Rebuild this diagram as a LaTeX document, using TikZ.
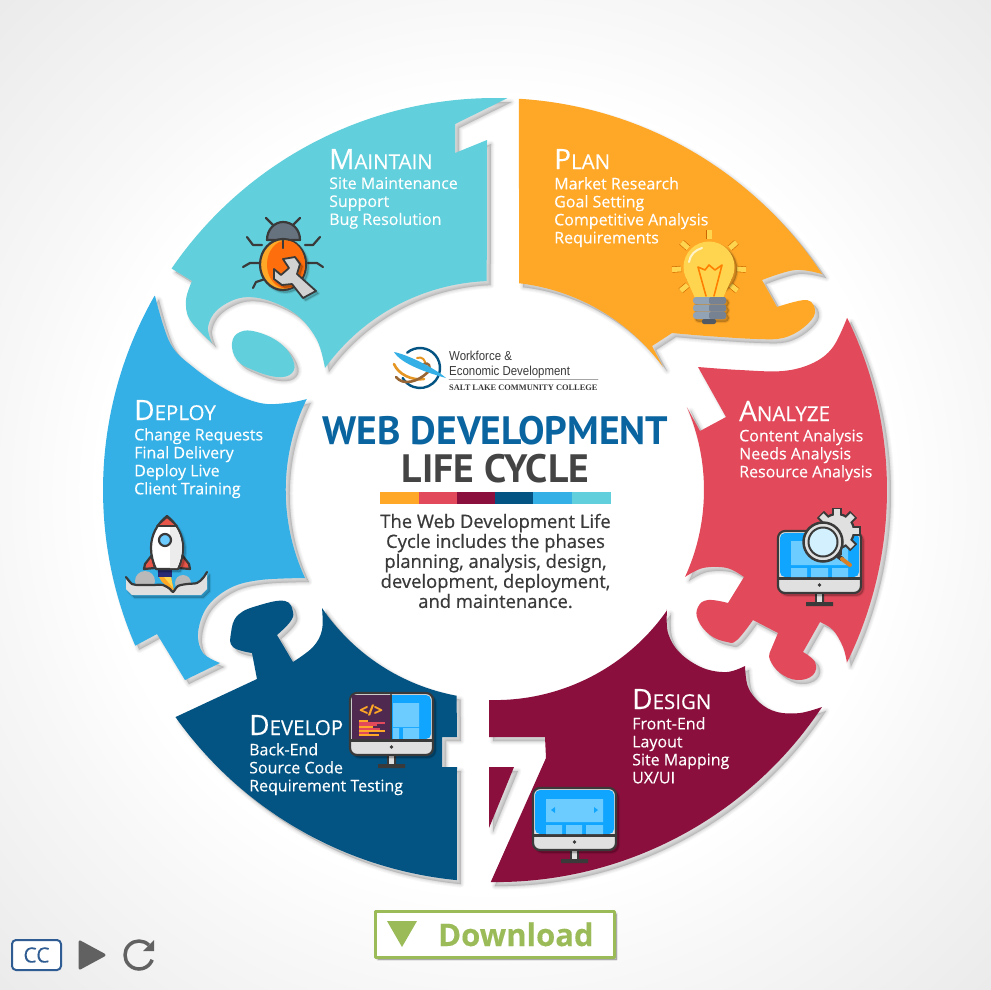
\documentclass[tikz,border=0pt]{standalone}
\usepackage{fontspec}
\setmainfont{Open Sans}[FakeBold=0.25]
\newfontfamily\headfont{PT Sans}
\newfontfamily\paperfont[FakeBold=0.6]{Open Sans}
\newfontfamily\logofont[FakeStretch=0.88]{Liberation Sans}
\newfontfamily\collegefont{Liberation Serif}
\definecolor{planc}{HTML}{FFA726}
\definecolor{analyzec}{HTML}{E24A5B}
\definecolor{designc}{HTML}{8A0F3C}
\definecolor{developc}{HTML}{045483}
\definecolor{deployc}{HTML}{34B0E6}
\definecolor{maintainc}{HTML}{62D0DC}
\definecolor{inkc}{HTML}{3A3A3A}
\definecolor{screenc}{HTML}{10A6FF}
\definecolor{panelc}{HTML}{6DCCFF}
\definecolor{chinc}{HTML}{E0E0E0}
\definecolor{titlec}{HTML}{0A649F}
\definecolor{okc}{HTML}{9BBB59}
\definecolor{ccc}{HTML}{2F5C92}
\definecolor{edgec}{HTML}{EAEAEA}
\definecolor{bulbc}{HTML}{FFD54F}
\definecolor{basec}{HTML}{93A3B6}
\pgfdeclareradialshading{bgfade}{\pgfpoint{0bp}{0bp}}{color(0bp)=(white);color(20bp)=(white);color(25bp)=(edgec!35);color(36bp)=(edgec);color(50bp)=(edgec)}
\newcommand\phase[2]{{\fontsize{28}{28}\selectfont #1\fontsize{20.5}{20}\selectfont #2}}
\tikzset{
	softshadow/.style={
		preaction={fill=black,draw=black,opacity=.03,line width=7,transform canvas={shift={(4pt,-4pt)}}},
		preaction={fill=black,draw=black,opacity=.03,line width=5,transform canvas={shift={(4pt,-4pt)}}},
		preaction={fill=black,draw=black,opacity=.04,line width=3,transform canvas={shift={(4pt,-4pt)}}},
		preaction={fill=black,draw=black,opacity=.05,line width=1,transform canvas={shift={(4pt,-4pt)}}}},
	smallshadow/.style={
		preaction={fill=black,draw=black,opacity=.08,line width=3,transform canvas={shift={(2.5pt,-2.5pt)}}},
		preaction={fill=black,draw=black,opacity=.1,line width=1,transform canvas={shift={(2.5pt,-2.5pt)}}}},
	phasehead/.style={anchor=base west,inner sep=0,text=white},
	phasetext/.style={anchor=north west,inner sep=0,text=white,align=left,font=\fontsize{16}{18}\selectfont},
	inkline/.style={draw=inkc,line width=2.2},
	monitor/.pic={
		\fill[inkc] (37,60) rectangle (46,72) (28,71) rectangle (55,75);
		\fill[chinc] (39,62) rectangle (44,71);
		\path[smallshadow,fill=chinc,inkline,rounded corners=7] (0,0) rectangle (83,62);
		\fill[screenc,rounded corners=5] (2,46) -- (2,2) -- (81,2) -- (81,46) -- cycle;
		\draw[inkc,line width=3] (1,47) -- (82,47);
		\fill[inkc] (41.5,54) circle (1.8);
	},
}
\begin{document}
\begin{tikzpicture}[x=1pt,y=1pt,yscale=-1,line join=round,line cap=round,>=stealth,font=\fontsize{16}{18}\selectfont]
	\useasboundingbox (0,0) rectangle (991,989);
	\shade[shading=bgfade] (0,0) rectangle (991,989);
	\path
	(495,490)coordinate(O)
	(O)++(-86.5:392)coordinate(planout)(O)++(24.6:209)coordinate(analyzein)(O)++(-26:392)coordinate(analyzeout)
	(O)++(34.9:209)coordinate(designin)(O)++(33.6:392)coordinate(designout)
	(O)++(145.7:209)coordinate(developin)(O)++(95.6:392)coordinate(developout)
	(O)++(155.2:209)coordinate(deployin)(O)++(209.7:392)coordinate(deployout)
	(O)++(-144.3:209)coordinate(maintainin)(O)++(-88.2:392)coordinate(maintainout)
	;
	%%Plan
	\fill[planc,softshadow] (planout) arc[start angle=-86.5,end angle=-33.4,radius=392]
		-- plot[smooth,tension=.6] coordinates {(822,274)(795,270)(762,280)} -- (777,307)
		-- plot[smooth,tension=.6] coordinates {(777,307)(807,300)(815,313)(803,328)(783,338)(757,339)(707,336)(672,333)}
		-- (652,346) -- (663,367) arc[start angle=-36.2,end angle=-83.4,radius=208] -- cycle;
	%%Analyze
	\fill[analyzec,softshadow] (analyzeout) arc[start angle=-26,end angle=26.2,radius=392]
		-- plot[smooth,tension=.6] coordinates {(847,663)(843,647)(833,630)(820,622)} -- (803,652)
		-- plot[smooth,tension=.7] coordinates {(803,652)(815,662)(813,675)(797,680)(780,673)(770,660)(770,652)} -- (778,633) -- (753,620)
		-- plot[smooth,tension=.7] coordinates {(753,620)(737,640)(727,642)(710,635)(698,620)(698,607)(708,600)(728,603)} -- (744,577)
		-- plot[smooth,tension=.6] coordinates {(744,577)(727,568)(703,568)(685,577)}
		-- (analyzein) arc[start angle=24.6,end angle=-23.4,radius=209] -- (700,431) -- (726,417) -- (698,367)
		-- plot[smooth,tension=.6] coordinates {(698,367)(740,370)(783,371)(813,363)(833,347)(847,318)} -- cycle;
	%%Design
	\fill[designc,softshadow] (designin)
		-- plot[smooth,tension=.6] coordinates {(667,610)(668,633)(680,653)(703,668)(727,672)(745,666)}
		-- plot[smooth,tension=.6] coordinates {(745,666)(748,687)(760,703)(777,712)(800,713)(822,707)}
		arc[start angle=33.6,end angle=90.7,radius=392] -- (546,758) -- (545,737) -- (489,737) -- (489,700)
		arc[start angle=91.6,end angle=34.9,radius=210] -- cycle;
	\fill[designc,softshadow] (489,767) -- (514,767) -- (489,828) -- cycle;
	%%Develop
	\fill[developc,softshadow] (developout) arc[start angle=95.6,end angle=144.6,radius=392] -- (257,679) -- (252,653)
		-- plot[smooth,tension=.7] coordinates {(252,653)(233,647)(231,633)(238,615)(260,605)(285,601)(293,612)(290,622)(277,635)} -- (293,662)
		-- plot[smooth,tension=.6] coordinates {(293,662)(313,647)(322,630)(322,608)}
		arc[start angle=145.7,end angle=100.5,radius=209] -- (457,737) -- (442,737) -- (442,767) -- (457,767) -- cycle;
	%%Deploy
	\fill[deployc,softshadow] (deployout) arc[start angle=209.7,end angle=156.6,radius=392] -- (157,634) -- (185,680) -- (220,663)
		-- plot[smooth,tension=.6] coordinates {(220,663)(203,653)(198,633)(207,607)(230,588)(260,580)(305,578)}
		arc[start angle=155.2,end angle=205.8,radius=209]
		-- plot[smooth,tension=.6] coordinates {(307,399)(287,403)(260,403)(227,390)(193,367)(170,343)(155,296)} -- cycle;
	%%Maintain
	\fill[maintainc,softshadow] (maintainout) arc[start angle=-88.2,end angle=-145.6,radius=392] -- (192,281)
		-- plot[smooth,tension=.6] coordinates {(192,281)(186,300)(190,320)(212,343)}
		-- plot[smooth,tension=.6] coordinates {(212,343)(208,327)(217,310)(240,298)(267,300)(297,315)(317,340)(325,368)}
		arc[start angle=-144.3,end angle=-92.2,radius=209] -- (487,140) -- (455,153) -- (455,124) -- cycle;
	\fill[maintainc,softshadow] plot[smooth cycle,tension=.7] coordinates {(232,343)(240,332)(257,332)(280,343)(293,360)(292,373)(277,377)(253,370)(237,360)};
	%%Phase names and lists
	\foreach \t/\x/\y/\h/\r/\b in {
		plan/554/169/P/LAN/{Market Research\\Goal Setting\\Competitive Analysis\\Requirements},
		analyze/739/421/A/NALYZE/{Content Analysis\\Needs Analysis\\Resource Analysis},
		design/632/709/D/ESIGN/{Front-End\\Layout\\Site Mapping\\UX/UI},
		develop/249/735/D/EVELOP/{Back-End\\Source Code\\Requirement Testing},
		deploy/134/420/D/EPLOY/{Change Requests\\Final Delivery\\Deploy Live\\Client Training},
		maintain/329/169/M/AINTAIN/{Site Maintenance\\Support\\Bug Resolution}}{
			\node[phasehead] (\t head) at (\x,\y) {\phase{\h}{\r}};
			\node[phasetext] (\t text) at (\x,\y+8) {\b};
		}
	%%Logo
	\draw[developc,line width=2.4] (420,368)++(-130:20) arc[start angle=-130,end angle=150,radius=20];
	\draw[planc!90!black,line width=2.6] (394,364) .. controls (398,374) and (412,381) .. (424,379);
	\draw[planc!90!black,line width=2] (417,358) .. controls (422,356) and (426,360) .. (425,365);
	\draw[brown!80!black,line width=2.6] (396,377) .. controls (403,386) and (418,382) .. (428,372) .. controls (432,366) and (428,362) .. (424,364);
	\draw[brown!80!black,line width=2] (411,361) -- (420,364);
	\fill[deployc] (394,352) .. controls (405,354) and (432,366) .. (446,378) .. controls (428,373) and (401,364) .. (394,352) -- cycle;
	\node[anchor=base west,inner sep=0,text=inkc] (logoa) at (449,360) {\logofont\fontsize{13}{13}\selectfont Workforce \&};
	\node[anchor=base west,inner sep=0,text=inkc] (logob) at (449,375) {\logofont\fontsize{13}{13}\selectfont Economic Development};
	\draw[gray!70,line width=.8] (449,379.5) -- (598,379.5);
	\node[anchor=base west,inner sep=0,text=inkc] (logoc) at (449,390) {\collegefont\bfseries\fontsize{8.4}{8}\selectfont SALT LAKE COMMUNITY COLLEGE};
	%%Title
	\node[inner sep=0,anchor=base,text=titlec] (webdev) at (495.5,444) {\headfont\bfseries\fontsize{39.6}{40}\selectfont WEB DEVELOPMENT};
	\node[inner sep=0,anchor=base,text=inkc!95!white] (lifecycle) at (495.5,482) {\headfont\bfseries\fontsize{39.6}{40}\selectfont LIFE CYCLE};
	\foreach \c/\x in {planc/380,analyzec/419,designc/457,developc/495,deployc/533,maintainc/572}{
			\fill[\c] (\x,492) rectangle ++(38.5,12);
		}
	\node[inner sep=0,align=center,text=inkc,font=\paperfont\fontsize{18.4}{20}\selectfont] (about) at (495.5,561) {The Web Development Life\\ Cycle includes the phases\\ planning, analysis, design,\\ development, deployment,\\ and maintenance.};
	%%Bulb
	\foreach \g in {-90,-42,-138,4,176,40,140}{
			\draw[draw=orange!80!black,double=bulbc,line width=.6,double distance=5,line cap=butt] (709,267)++(\g:28)--++(\g:9);
		}
	\fill[bulbc,smallshadow] (709,267) circle (25.5);
	\fill[bulbc] (687,280) -- (695,298) -- (723,298) -- (731,280) -- cycle;
	\draw[white!70!bulbc,line width=2] (689,262) .. controls (690,255) and (695,250) .. (702,248);
	\draw[orange,line width=1.6] (706,296) -- (698,267) -- (705,270) -- (709,265) -- (715,270) -- (722,265) -- (714,296);
	\foreach \y in {297,304.5,312}{
			\fill[basec,rounded corners=3,smallshadow] (693,\y) rectangle ++(33,7);
			\fill[basec!80!black,rounded corners=2] (709,\y) rectangle ++(17,7);
		}
	\fill[basec!55!black,rounded corners=2] (702,319) rectangle (716,324);
	%%Bug
	\draw[inkline] (266,218) -- (273,225) (300,218) -- (293,225)
		(247,237) -- (253,245) -- (262,245) (320,237) -- (313,245) -- (305,245)
		(243,267) -- (250,263) -- (260,263) (323,267) -- (317,263) -- (308,263)
		(253,288) -- (256,282) -- (265,279);
	\path[fill=basec!70!black,inkline] (267,240) .. controls (267,229) and (275,222) .. (283,222) .. controls (292,222) and (300,229) .. (300,240) -- cycle;
	\path[fill=planc,inkline,smallshadow] (283,264.5) ellipse [x radius=23,y radius=25.5];
	\fill[orange!80!red!95!white] (286,264.5) ellipse [x radius=19,y radius=24];
	\draw[inkline] (283,239) -- (283,248);
	\path[fill=gray!35,inkline,line width=1.8,smallshadow] (283,259) -- (295,257) -- (300,264) -- (297,274) -- (316,291) -- (303,298) -- (292,284) -- (282,285) -- (274,279) -- (274,269) -- (281,275) -- (289,268) -- cycle;
	%%Rocket
	\fill[gray!55] (145,581) circle (10) (183,583) circle (8);
	\fill[inkc!70!blue] (158,569) rectangle (172,577);
	\fill[planc] (159,577) -- (171,577) -- (174,591) -- (167,586) -- (162,582) -- cycle;
	\fill[bulbc] (164,577) -- (171,577) -- (173,588) -- cycle;
	\path[fill=analyzec!80!orange,inkline] (152,555) -- (145,564) -- (144,569) -- (155,568) -- cycle (182,555) -- (189,564) -- (190,569) -- (178,568) -- cycle;
	\path[fill=white,inkline,smallshadow] (167,516) .. controls (157,524) and (151,535) .. (151,548) .. controls (151,555) and (153,563) .. (156,569) -- (178,569) .. controls (181,563) and (183,555) .. (183,548) .. controls (183,535) and (177,524) .. (167,516) -- cycle;
	\fill[gray!15] (170,520) .. controls (177,527) and (182,537) .. (182,548) .. controls (182,555) and (180,562) .. (177,568) -- (170,568) -- cycle;
	\path[fill=analyzec!80!orange,inkline,line width=1.6] (167,517) -- (157,526) -- (177,526) -- cycle;
	\path[fill=panelc,inkline] (165,540) circle (6);
	\fill[chinc,smallshadow] plot[smooth,tension=.5] coordinates {(126,577)(132,584)(140,585)(152,585)(163,585)(170,589)(173,592)(178,586)(187,584)(197,583)(203,578)(207,572)} -- (207,589) -- (201,595) -- (132,595) -- (126,589) -- cycle;
	\draw[inkline] plot[smooth,tension=.5] coordinates {(126,577)(132,584)(140,585)(152,585)(163,585)(170,589)(173,592)(178,586)(187,584)(197,583)(203,578)(207,572)};
	%%Screens
	\pic[transform shape] (developscreen) at (350,693) {monitor};
	\fill[inkc!70!violet] (352,695) rectangle (390,739);
	\draw[inkc,line width=2.4] (391,695) -- (391,739);
	\fill[panelc] (393,703) rectangle (419,727) (393,728) rectangle (399,739) (403,728) rectangle (419,739);
	\node[inner sep=0,text=planc] (codetag) at (371,710) {\bfseries\fontsize{15}{15}\selectfont </>};
	\foreach \y/\w/\c in {721/9/planc,723/26/analyzec,725/18/analyzec,727/14/planc,729/21/analyzec,731/26/planc,733/10/analyzec,735/20/planc}{
			\draw[\c,line width=1.2,line cap=butt] (359,\y) -- ++(\w,0);
		}
	\draw[inkc,line width=3] (351,740) -- (429,740);
	\pic[transform shape] (designscreen) at (533,788) {monitor};
	\fill[panelc] (546,799) rectangle (603,822) (546,825) rectangle (562,834) (566,825) rectangle (582,834) (586,825) rectangle (603,834);
	\fill[screenc] (551,810) -- (555,807) -- (555,813) -- cycle (598,810) -- (594,807) -- (594,813) -- cycle;
	\pic[transform shape] (analyzescreen) at (778,531) {monitor};
	\fill[panelc] (791,541) rectangle (848,565) (791,568) rectangle (807,577) (811,568) rectangle (828,577) (832,568) rectangle (848,577);
	\foreach \g in {0,45,...,315}{
			\draw[inkc,line width=10,line cap=butt] (837,531)++(\g:15)--++(\g:8.5);
		}
	\path[fill=chinc,inkline] (837,531) circle (17);
	\foreach \g in {0,45,...,315}{
			\draw[chinc,line width=6,line cap=butt] (837,531)++(\g:13)--++(\g:9);
		}
	\draw[inkc,line width=4.5] (838,556) -- (842,559);
	\draw[brown!60!orange,line width=4] (842,559) -- (850,565);
	\path[fill=chinc,inkline,line width=2.5] (823,542) circle (19.5);
	\path[fill=panelc!30!white,inkline,line width=2] (823,542) circle (14.5);
	%%Download
	\node[draw=okc,line width=3,fill=white,smallshadow,minimum width=239,minimum height=46,inner sep=0] (download) at (494.5,934) {};
	\fill[okc] (387,921) -- (417,921) -- (402,947) -- cycle;
	\node[inner sep=0,anchor=base west,text=okc] (downloadtext) at (438,946) {\bfseries\fontsize{31}{31}\selectfont Download};
	%%Player
	\node[draw=ccc,line width=2,fill=white,rounded corners=4,minimum width=49,minimum height=30,inner sep=0,text=ccc] (ccbutton) at (36.5,955) {\fontsize{21}{21}\selectfont CC};
	\path[fill=inkc!80!white,draw=inkc!80!white,line width=3] (80,942) -- (104,955) -- (80,968) -- cycle;
	\draw[inkc!80!white,line width=3.5,line cap=butt] (139,955)++(-45:14) arc[start angle=-45,end angle=-340,radius=14];
	\fill[inkc!80!white] (154,940) -- (154,951) -- (143,951) -- cycle;
\end{tikzpicture}
\end{document}
